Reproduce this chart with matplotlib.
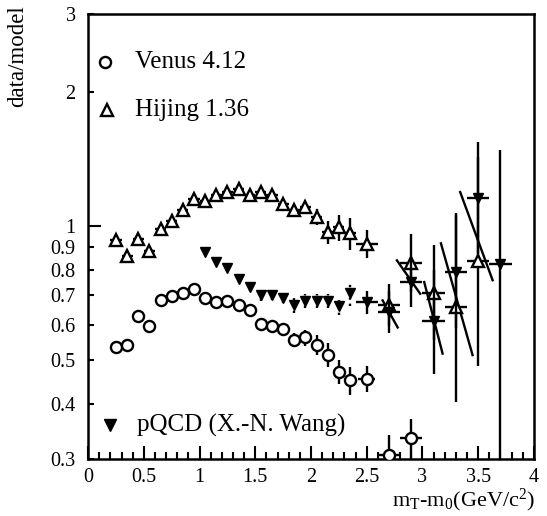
import matplotlib
matplotlib.use("Agg")
import matplotlib.pyplot as plt
from matplotlib.ticker import FixedLocator, MultipleLocator, NullFormatter
import numpy as np

plt.rcParams['font.family'] = ['Liberation Serif', 'DejaVu Serif']
plt.rcParams['mathtext.fontset'] = 'custom'
plt.rcParams['mathtext.rm'] = 'Liberation Serif'
plt.rcParams['mathtext.it'] = 'Liberation Serif:italic'

# Venus 4.12 (open circles)
venus_x = [0.25, 0.35, 0.45, 0.55, 0.65, 0.75, 0.85, 0.95, 1.05, 1.15, 1.25, 1.35,
           1.45, 1.55, 1.65, 1.75, 1.85, 1.95, 2.05, 2.15, 2.25, 2.35, 2.5, 2.7, 2.9]
venus_y = [0.536, 0.541, 0.628, 0.598, 0.682, 0.697, 0.708, 0.725, 0.692, 0.676, 0.680, 0.665,
           0.650, 0.605, 0.597, 0.589, 0.557, 0.563, 0.541, 0.515, 0.471, 0.451, 0.455, 0.307, 0.335]
venus_err = [0.008, 0.008, 0.008, 0.008, 0.008, 0.008, 0.008, 0.008, 0.008, 0.008, 0.008, 0.008,
             0.008, 0.010, 0.010, 0.012, 0.020, 0.023, 0.028, 0.032, 0.029, 0.033, 0.031, 0.033, 0.035]
venus_xerr = [0.05] * 22 + [0.075, 0.1, 0.1]

# Hijing 1.36 (open triangles)
hij_x = [0.25, 0.35, 0.45, 0.55, 0.65, 0.75, 0.85, 0.95, 1.05, 1.15, 1.25, 1.35,
         1.45, 1.55, 1.65, 1.75, 1.85, 1.95, 2.05, 2.15, 2.25, 2.35, 2.5, 2.7, 2.9, 3.1, 3.3, 3.5]
hij_y = [0.933, 0.857, 0.938, 0.880, 0.988, 1.03, 1.09, 1.154, 1.14, 1.174, 1.194, 1.215,
         1.174, 1.194, 1.174, 1.12, 1.086, 1.105, 1.05, 0.971, 0.996, 0.966, 0.915, 0.665, 0.827, 0.708, 0.659, 0.835]
hij_lo = [0.015, 0.015, 0.015, 0.015, 0.015, 0.015, 0.015, 0.015, 0.015, 0.015, 0.015, 0.015,
          0.015, 0.015, 0.015, 0.02, 0.025, 0.03, 0.044, 0.056, 0.067, 0.08, 0.067, 0.068, 0.116, 0.153, 0.256, 0.348]
hij_hi = [0.015, 0.015, 0.015, 0.015, 0.015, 0.015, 0.015, 0.015, 0.015, 0.015, 0.015, 0.015,
          0.015, 0.015, 0.015, 0.02, 0.025, 0.03, 0.044, 0.056, 0.067, 0.08, 0.067, 0.076, 0.136, 0.198, 0.41, 0.6]
hij_xerr = [0.05] * 22 + [0.1] * 6

# pQCD (X.-N. Wang) (filled down triangles)
pq_x = [1.05, 1.15, 1.25, 1.35, 1.45, 1.55, 1.65, 1.75, 1.85, 1.95, 2.05, 2.15, 2.25, 2.35,
        2.5, 2.7, 2.9, 3.1, 3.3, 3.5, 3.7]
pq_y = [0.876, 0.832, 0.808, 0.760, 0.731, 0.700, 0.703, 0.692, 0.665, 0.680, 0.680, 0.680, 0.662, 0.708,
        0.676, 0.642, 0.75, 0.613, 0.79, 1.158, 0.822]
pq_lo = [0.015, 0.015, 0.015, 0.015, 0.015, 0.02, 0.02, 0.02, 0.025, 0.025, 0.025, 0.025, 0.031, 0.044,
         0.04, 0.067, 0.091, 0.146, 0.2, 0.292, 0.53]
pq_hi = [0.015, 0.015, 0.015, 0.015, 0.015, 0.02, 0.02, 0.02, 0.025, 0.025, 0.025, 0.025, 0.031, 0.044,
         0.04, 0.074, 0.103, 0.187, 0.268, 0.388, 0.659]
pq_xerr = [0.0] * 14 + [0.1] * 7

# slanted systematic lines (x0, y0) -> (x1, y1)
slant_x0 = [2.643, 2.771, 3.016, 3.166, 3.339]
slant_y0 = [0.682, 0.839, 0.750, 0.916, 1.194]
slant_x1 = [2.778, 2.980, 3.181, 3.450, 3.630]
slant_y1 = [0.593, 0.706, 0.518, 0.514, 0.757]

fig = plt.figure(figsize=(5.47, 5.16), dpi=100)
ax = fig.add_axes([0.161, 0.110, 0.815, 0.863])

lw = 1.7
ax.errorbar(venus_x, venus_y, yerr=venus_err, xerr=venus_xerr, fmt='o', ms=8,
            mfc='white', mec='black', mew=lw, ecolor='black', elinewidth=lw, capsize=0, zorder=3)
ax.errorbar(hij_x, hij_y, yerr=[hij_lo, hij_hi], xerr=hij_xerr, fmt='^', ms=9,
            mfc='white', mec='black', mew=lw, ecolor='black', elinewidth=lw, capsize=0, zorder=3)

n_dot = 14
e1 = ax.errorbar(pq_x[:n_dot], pq_y[:n_dot], yerr=[pq_lo[:n_dot], pq_hi[:n_dot]], fmt='v', ms=7,
                 color='black', elinewidth=lw, capsize=0, zorder=4)
e1[2][0].set_linestyle(':')
ax.errorbar(pq_x[n_dot:], pq_y[n_dot:], yerr=[pq_lo[n_dot:], pq_hi[n_dot:]], xerr=pq_xerr[n_dot:],
            fmt='v', ms=7, color='black', elinewidth=lw, capsize=0, zorder=4)

for a, b, c, d in zip(slant_x0, slant_y0, slant_x1, slant_y1):
    ax.plot([a, c], [b, d], color='black', lw=lw, zorder=2)

ax.set_yscale('log')
ax.set_xlim(0, 4)
ax.set_ylim(0.3, 3)

yt = [0.3, 0.4, 0.5, 0.6, 0.7, 0.8, 0.9, 1, 2, 3]
ax.yaxis.set_major_locator(FixedLocator(yt))
ax.yaxis.set_minor_locator(FixedLocator([]))
ax.set_yticklabels(['0.3', '0.4', '0.5', '0.6', '0.7', '0.8', '0.9', '1', '2', '3'])
ax.yaxis.set_minor_formatter(NullFormatter())
ax.set_xticks([0, 0.5, 1, 1.5, 2, 2.5, 3, 3.5, 4])
ax.set_xticklabels(['0', '0.5', '1', '1.5', '2', '2.5', '3', '3.5', '4'])
ax.xaxis.set_minor_locator(MultipleLocator(0.1))

ax.tick_params(axis='both', which='major', direction='in', length=9.5, width=1.5, labelsize=14.5)
ax.tick_params(axis='y', which='major', pad=9)
ax.tick_params(axis='x', which='major', pad=6)
ax.tick_params(axis='x', which='minor', direction='in', length=5, width=1.5)
ax.tick_params(top=False, right=False)
# longer tick at 1, short ticks elsewhere on y
yticks = ax.yaxis.get_major_ticks()
for i, t in enumerate(yticks):
    t.tick1line.set_markersize(9 if i == 7 else 4.5)
for s in ax.spines.values():
    s.set_linewidth(1.8)

# legend entries
ax.plot([0.039], [0.893], 'o', ms=8, mfc='white', mec='black', mew=lw, transform=ax.transAxes, clip_on=False)
ax.text(0.105, 0.893, 'Venus 4.12', transform=ax.transAxes, va='center', ha='left', fontsize=18)
ax.plot([0.043], [0.784], '^', ms=9, mfc='white', mec='black', mew=lw, transform=ax.transAxes, clip_on=False)
ax.text(0.105, 0.784, 'Hijing 1.36', transform=ax.transAxes, va='center', ha='left', fontsize=18)
ax.plot([0.049], [0.076], 'v', ms=9, color='black', transform=ax.transAxes, clip_on=False)
ax.text(0.109, 0.076, 'pQCD (X.-N. Wang)', transform=ax.transAxes, va='center', ha='left', fontsize=18)

fig.text(0.033, 0.99, 'data/model', rotation=90, va='top', ha='center', fontsize=16.5)
fig.text(0.978, 0.004, r'm$_\mathrm{T}$-m$_0$(GeV/c$^2$)', va='bottom', ha='right', fontsize=16)

fig.savefig('out.png', dpi=100)
